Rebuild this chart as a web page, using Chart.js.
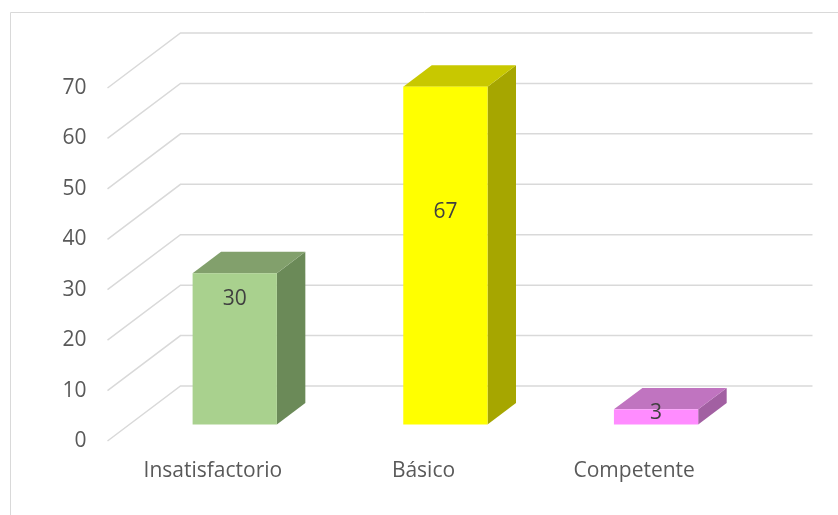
<!DOCTYPE html>
<html>
<head>
<meta charset="utf-8">
<script src="https://cdn.jsdelivr.net/npm/chart.js@4.4.1/dist/chart.umd.min.js"></script>
<style>
  body { margin: 0; background: #fff; }
  canvas { display: block; }
</style>
</head>
<body>
<canvas id="nivelChart" width="838" height="515"></canvas>
<script>
var categorias = ['Insatisfactorio', 'Básico', 'Competente'];
var valores = [30, 67, 3];
var ticksY = [0, 10, 20, 30, 40, 50, 60, 70];

// colours per bar: front, top, side
var caraFrente = ['#a9d18e', '#ffff00', '#ff8cff'];
var caraArriba = ['#82a06c', '#c8c800', '#c074c0'];
var caraLado = ['#6b8a58', '#a6a600', '#a260a2'];

// 3D depth of the floor, and where the boxes sit inside it
var DX = 73, DY = 55;
var D1 = 0.3, D2 = 0.69;
// where each value label sits, as a share of the bar height
var posEtiqueta = [0.83, 0.63, 0.73];

var fondo3d = {
    id: 'fondo3d',
    beforeDraw: function (chart) {
        var c = chart.ctx, a = chart.chartArea, y = chart.scales.y;
        c.save();
        c.strokeStyle = '#d9d9d9';
        c.lineWidth = 1;
        c.beginPath();
        c.moveTo(10.5, 520);
        c.lineTo(10.5, 12.5);
        c.lineTo(840, 12.5);
        c.stroke();

        c.lineWidth = 1.5;
        ticksY.forEach(function (v) {
            var py = y.getPixelForValue(v);
            c.beginPath();
            c.moveTo(a.left, py);
            c.lineTo(a.left + DX, py - DY);
            c.lineTo(a.right + DX, py - DY);
            c.stroke();
        });
        c.restore();
    },
    beforeDatasetsDraw: function () {
        return false;
    },
    afterDraw: function (chart) {
        var c = chart.ctx, y = chart.scales.y;
        var meta = chart.getDatasetMeta(0);
        var dx = (D2 - D1) * DX, dy = (D2 - D1) * DY;
        c.save();
        meta.data.forEach(function (bar, i) {
            var x0 = bar.x - bar.width / 2 + D1 * DX;
            var x1 = bar.x + bar.width / 2 + D1 * DX;
            var top = bar.y - D1 * DY;
            var base = bar.base - D1 * DY;

            c.fillStyle = caraLado[i];
            c.beginPath();
            c.moveTo(x1, top);
            c.lineTo(x1 + dx, top - dy);
            c.lineTo(x1 + dx, base - dy);
            c.lineTo(x1, base);
            c.closePath();
            c.fill();

            c.fillStyle = caraArriba[i];
            c.beginPath();
            c.moveTo(x0, top);
            c.lineTo(x0 + dx, top - dy);
            c.lineTo(x1 + dx, top - dy);
            c.lineTo(x1, top);
            c.closePath();
            c.fill();

            c.fillStyle = caraFrente[i];
            c.fillRect(x0, top, x1 - x0, base - top);

            var ly = y.getPixelForValue(valores[i] * posEtiqueta[i]) - D1 * DY;
            c.fillStyle = '#404040';
            c.font = '21px "Open Sans"';
            c.textAlign = 'center';
            c.textBaseline = 'middle';
            c.fillText(String(valores[i]), (x0 + x1) / 2, ly);
        });
        c.restore();
    }
};

var ctx = document.getElementById('nivelChart').getContext('2d');
var chart = new Chart(ctx, {
    type: 'bar',
    data: {
        labels: categorias,
        datasets: [{
            data: valores,
            backgroundColor: caraFrente,
            categoryPercentage: 1,
            barPercentage: 0.4
        }]
    },
    options: {
        responsive: false,
        animation: false,
        devicePixelRatio: 1,
        layout: { padding: { left: 0, top: 88, right: 98.5, bottom: 0 } },
        plugins: {
            legend: { display: false },
            tooltip: { enabled: false }
        },
        scales: {
            x: {
                grid: { display: false, drawTicks: false },
                border: { display: false },
                ticks: {
                    color: '#595959',
                    font: { family: 'Open Sans', size: 21 },
                    padding: 17,
                    maxRotation: 0
                },
                afterFit: function (s) { s.height = 74; }
            },
            y: {
                min: 0,
                max: 70,
                grid: { display: false, drawTicks: false },
                border: { display: false },
                ticks: {
                    stepSize: 10,
                    color: '#595959',
                    font: { family: 'Open Sans', size: 21 },
                    padding: 21
                },
                afterFit: function (s) { s.width = 107.5; }
            }
        }
    },
    plugins: [fondo3d]
});
</script>
</body>
</html>
